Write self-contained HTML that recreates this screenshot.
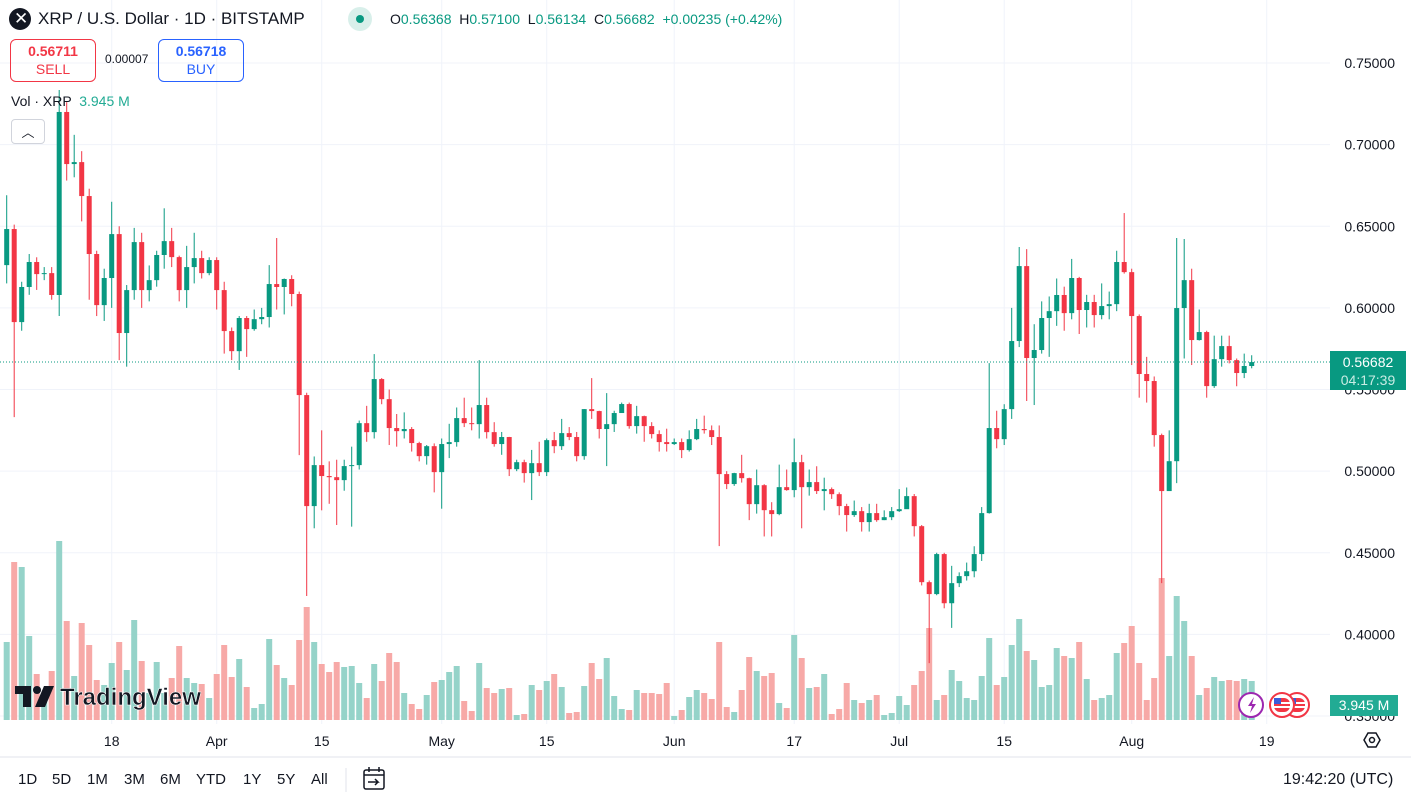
<!DOCTYPE html>
<html><head><meta charset="utf-8">
<style>
html,body{margin:0;padding:0;background:#fff;width:1411px;height:799px;overflow:hidden;font-family:"Liberation Sans",sans-serif;}
#wrap{position:relative;width:1411px;height:799px;}
svg{position:absolute;left:0;top:0;}
.hdr{position:absolute;font-size:16px;color:#131722;white-space:nowrap;}
.box{position:absolute;border:1px solid;border-radius:6px;text-align:center;font-size:14px;line-height:18px;padding-top:2px;box-sizing:border-box;}
.tf{position:absolute;top:771px;font-size:15px;color:#131722;}
</style></head><body>
<div id="wrap">
<svg id="chart" width="1411" height="799"></svg>

<div class="hdr" style="left:9px;top:8px;width:22px;height:22px;border-radius:11px;background:#131722;"><span style="position:absolute;left:5px;top:1px;color:#fff;font-size:17px;">✕</span></div>
<div class="hdr" style="left:38px;top:9px;font-size:17px;">XRP / U.S. Dollar · 1D · BITSTAMP</div>
<div class="hdr" style="left:348px;top:7px;width:24px;height:24px;border-radius:12px;background:#d8efea;"><div style="position:absolute;left:8px;top:8px;width:8px;height:8px;border-radius:4px;background:#089981;"></div></div>
<div class="hdr" style="left:390px;top:11px;font-size:14px;">O<span style="color:#089981">0.56368</span> &nbsp;H<span style="color:#089981">0.57100</span> &nbsp;L<span style="color:#089981">0.56134</span> &nbsp;C<span style="color:#089981">0.56682</span> &nbsp;<span style="color:#089981">+0.00235 (+0.42%)</span></div>

<div class="box" style="left:10px;top:39px;width:86px;height:43px;border-color:#f23645;color:#f23645;"><b>0.56711</b><br>SELL</div>
<div class="hdr" style="left:105px;top:52px;font-size:12px;">0.00007</div>
<div class="box" style="left:158px;top:39px;width:86px;height:43px;border-color:#2962ff;color:#2962ff;"><b>0.56718</b><br>BUY</div>
<div class="hdr" style="left:11px;top:93px;font-size:14px;">Vol · XRP &nbsp;<span style="color:#22ab94">3.945 M</span></div>
<div class="hdr" style="left:11px;top:119px;width:34px;height:25px;border:1px solid #d1d4dc;border-radius:4px;background:#fff;box-sizing:border-box;text-align:center;font-size:13px;line-height:26px;">︿</div>

<div class="hdr" style="left:1330px;top:351px;width:76px;height:39px;background:#089981;color:#fff;font-size:14px;text-align:center;line-height:18px;padding-top:2px;box-sizing:border-box;">0.56682<br><span style="color:#c8ece4">04:17:39</span></div>
<div class="hdr" style="left:1330px;top:695px;width:68px;height:21px;background:#22ab94;color:#fff;font-size:14px;text-align:center;line-height:21px;">3.945 M</div>

<div class="tf" style="left:18px">1D</div>
<div class="tf" style="left:52px">5D</div>
<div class="tf" style="left:87px">1M</div>
<div class="tf" style="left:124px">3M</div>
<div class="tf" style="left:160px">6M</div>
<div class="tf" style="left:196px">YTD</div>
<div class="tf" style="left:243px">1Y</div>
<div class="tf" style="left:277px">5Y</div>
<div class="tf" style="left:311px">All</div>
<div class="tf" style="left:1283px;font-size:16px;">19:42:20 (UTC)</div>
</div>
<script>
const opens0 = 0.6262;
const closes = [0.6483,0.5913,0.6128,0.6281,0.6207,0.6213,0.6079,0.7200,0.6881,0.6893,0.6685,0.6330,0.6017,0.6183,0.6452,0.5846,0.6109,0.6403,0.6109,0.6170,0.6324,0.6409,0.6311,0.6109,0.6250,0.6305,0.6213,0.6293,0.6109,0.5858,0.5735,0.5938,0.5870,0.5931,0.5944,0.6146,0.6128,0.6177,0.6085,0.5466,0.4786,0.5037,0.4970,0.4963,0.4945,0.5031,0.5037,0.5294,0.5239,0.5564,0.5441,0.5264,0.5245,0.5258,0.5172,0.5092,0.5153,0.4994,0.5166,0.5178,0.5325,0.5294,0.5288,0.5405,0.5239,0.5166,0.5209,0.5012,0.5055,0.4988,0.5049,0.4994,0.5190,0.5153,0.5233,0.5209,0.5092,0.5380,0.5368,0.5258,0.5288,0.5356,0.5411,0.5276,0.5337,0.5276,0.5227,0.5178,0.5166,0.5178,0.5129,0.5196,0.5258,0.5251,0.5209,0.4982,0.4921,0.4988,0.4957,0.4798,0.4914,0.4761,0.4737,0.4902,0.4884,0.5055,0.4902,0.4933,0.4878,0.4890,0.4859,0.4786,0.4731,0.4755,0.4688,0.4743,0.4700,0.4718,0.4755,0.4767,0.4847,0.4663,0.4320,0.4247,0.4492,0.4191,0.4314,0.4357,0.4387,0.4492,0.4743,0.5264,0.5196,0.5380,0.5797,0.6256,0.5693,0.5742,0.5938,0.5980,0.6079,0.5968,0.6183,0.5987,0.6036,0.5956,0.6011,0.6023,0.6281,0.6219,0.5950,0.5595,0.5552,0.5221,0.4878,0.5061,0.5999,0.6170,0.5803,0.5852,0.5521,0.5686,0.5766,0.5680,0.5601,0.5644,0.5668];
const highs = [0.6690,0.6510,0.6160,0.6330,0.6310,0.6250,0.6250,0.7335,0.7260,0.7060,0.6960,0.6730,0.6350,0.6240,0.6650,0.6500,0.6140,0.6490,0.6460,0.6260,0.6350,0.6610,0.6490,0.6320,0.6380,0.6460,0.6350,0.6310,0.6310,0.6160,0.5880,0.5950,0.5950,0.5990,0.6000,0.6262,0.6428,0.6180,0.6200,0.6100,0.5480,0.5090,0.5250,0.5060,0.5070,0.5070,0.5150,0.5310,0.5400,0.5717,0.5570,0.5500,0.5350,0.5360,0.5270,0.5180,0.5160,0.5170,0.5200,0.5290,0.5390,0.5450,0.5390,0.5680,0.5450,0.5300,0.5240,0.5210,0.5070,0.5070,0.5130,0.5180,0.5200,0.5240,0.5320,0.5270,0.5240,0.5380,0.5570,0.5370,0.5478,0.5370,0.5420,0.5420,0.5400,0.5340,0.5300,0.5250,0.5260,0.5200,0.5200,0.5250,0.5320,0.5340,0.5280,0.5280,0.5000,0.4990,0.5100,0.4960,0.5010,0.4920,0.4810,0.5040,0.5010,0.5200,0.5100,0.5010,0.5030,0.4960,0.4900,0.4870,0.4800,0.4820,0.4780,0.4800,0.4800,0.4760,0.4780,0.4890,0.4900,0.4860,0.4670,0.4330,0.4500,0.4500,0.4420,0.4380,0.4440,0.4540,0.4780,0.5662,0.5370,0.5410,0.6000,0.6373,0.6360,0.5900,0.6040,0.6070,0.6180,0.6130,0.6300,0.6190,0.6080,0.6080,0.6150,0.6100,0.6350,0.6581,0.6240,0.5960,0.5700,0.5580,0.5230,0.5250,0.6428,0.6422,0.6240,0.5990,0.5860,0.5830,0.5830,0.5830,0.5690,0.5720,0.5710];
const lows = [0.6150,0.5331,0.5860,0.6080,0.6110,0.6170,0.6050,0.5950,0.6780,0.6800,0.6530,0.6050,0.5950,0.5920,0.6000,0.5680,0.5640,0.6050,0.6000,0.6040,0.6130,0.6240,0.6250,0.6040,0.6000,0.6150,0.6180,0.6200,0.5990,0.5720,0.5680,0.5620,0.5700,0.5860,0.5900,0.5880,0.5990,0.5960,0.6010,0.5098,0.4235,0.4650,0.4760,0.4800,0.4670,0.4880,0.4660,0.5010,0.5180,0.5200,0.5410,0.5160,0.5150,0.5200,0.5120,0.5060,0.5040,0.4870,0.4770,0.5080,0.5150,0.5270,0.5250,0.5200,0.5200,0.5150,0.5100,0.4970,0.5000,0.4930,0.4823,0.4970,0.4970,0.5110,0.5130,0.5190,0.5060,0.5070,0.5320,0.5200,0.5031,0.5240,0.5390,0.5260,0.5230,0.5180,0.5200,0.5120,0.5120,0.5160,0.5080,0.5120,0.5190,0.5230,0.5160,0.4541,0.4890,0.4910,0.4930,0.4700,0.4740,0.4600,0.4600,0.4730,0.4880,0.4840,0.4650,0.4850,0.4860,0.4760,0.4830,0.4730,0.4630,0.4720,0.4630,0.4630,0.4690,0.4700,0.4700,0.4750,0.4830,0.4600,0.4300,0.3824,0.4240,0.4160,0.4040,0.4290,0.4330,0.4350,0.4450,0.4740,0.5140,0.5160,0.5320,0.5760,0.5430,0.5405,0.5720,0.5700,0.5890,0.5860,0.5930,0.5840,0.5880,0.5880,0.5930,0.5930,0.5980,0.6210,0.5650,0.5450,0.5420,0.5150,0.4314,0.4880,0.4927,0.5690,0.5650,0.5800,0.5450,0.5510,0.5640,0.5660,0.5520,0.5570,0.5630];
const volumes = [7.8,15.8,15.3,8.4,4.6,2.0,4.9,17.9,9.9,4.4,9.7,7.5,4.0,3.5,5.7,7.8,5.0,10.0,5.9,2.7,5.8,2.7,4.2,7.4,4.2,3.7,3.6,2.2,4.6,7.5,4.3,6.1,3.3,1.2,1.6,8.1,5.5,4.2,3.5,8.0,11.3,7.8,5.6,4.8,5.8,5.3,5.4,3.7,2.2,5.6,3.9,6.7,5.8,2.7,1.6,1.1,2.5,3.8,4.0,4.8,5.4,1.9,0.9,5.7,3.2,2.7,3.1,3.2,0.5,0.6,3.5,3.0,3.9,4.6,3.3,0.7,0.8,3.4,5.7,4.1,6.2,2.4,1.1,1.0,3.0,2.7,2.7,2.6,3.7,0.4,1.0,2.3,3.0,2.7,2.1,7.8,1.3,0.8,3.0,6.3,4.9,4.4,4.7,1.7,1.2,8.5,6.2,3.2,3.3,4.6,0.6,1.1,3.7,2.0,1.7,2.0,2.5,0.5,0.7,2.4,1.5,3.5,4.9,9.2,2.0,2.5,5.0,3.9,2.2,2.0,4.4,8.2,3.5,4.3,7.5,10.1,6.9,6.0,3.3,3.5,7.2,6.4,6.2,7.8,4.1,2.0,2.2,2.5,6.7,7.7,9.4,5.7,2.0,4.2,14.2,6.4,12.4,9.9,6.4,2.5,3.2,4.3,3.9,4.0,3.9,4.1,3.9];
const priceTicks = [0.75,0.70,0.65,0.60,0.55,0.50,0.45,0.40,0.35];
const priceTickLabels = ["0.75000","0.70000","0.65000","0.60000","0.55000","0.50000","0.45000","0.40000","0.35000"];
const timeTickIdx = [14,28,42,58,72,89,105,119,133,150,168];
const timeTickLabels = ["18","Apr","15","May","15","Jun","17","Jul","15","Aug","19"];
const lastPrice = 0.56682;

const NS="http://www.w3.org/2000/svg";
const svg=document.getElementById('chart');
const PLOT_R=1330, VOL_BASE=720;
function xOf(i){return 6.7+7.5*i;}
function yOf(p){return 63+(0.75-p)*1632.6;}
function vH(v){return v*10;}
function mk(tag,attrs,parent){const e=document.createElementNS(NS,tag);for(const k in attrs)e.setAttribute(k,attrs[k]);(parent||svg).appendChild(e);return e;}

const clip=mk('clipPath',{id:'pc'});mk('rect',{x:0,y:0,width:PLOT_R,height:721},clip);
const grid=mk('g',{});


priceTicks.forEach((p,k)=>{
  const y=yOf(p);
  const l=mk('line',{x1:0,x2:PLOT_R,y1:y,y2:y,stroke:'#f0f3fa','stroke-width':1},grid);
  
  
  const t=mk('text',{x:1395,y:y+5,'text-anchor':'end','font-size':14,fill:'#131722','font-family':'Liberation Sans, sans-serif'});
  t.textContent=priceTickLabels[k];
  
  
});
timeTickIdx.forEach((ix,k)=>{
  const x=xOf(ix);
  const l=mk('line',{x1:x,x2:x,y1:0,y2:724,stroke:'#f0f3fa','stroke-width':1},grid);
  
  
  const t=mk('text',{x:x,y:746,'text-anchor':'middle','font-size':14,fill:'#131722','font-family':'Liberation Sans, sans-serif'});
  t.textContent=timeTickLabels[k];
  
  
});
const plot=mk('g',{'clip-path':'url(#pc)'});
// volume
const vg=mk('g',{},plot);


volumes.forEach((v,i)=>{
  const o=i===0?opens0:closes[i-1];
  const up=closes[i]>=o;
  const r=mk('rect',{x:xOf(i)-3,y:VOL_BASE-vH(v),width:6,height:vH(v),fill:up?'#95d3c9':'#f7a9a7'},vg);
  
  
});
// candles
const cg=mk('g',{},plot);


closes.forEach((c,i)=>{
  const o=i===0?opens0:closes[i-1];
  const up=c>=o;const col=up?'#089981':'#f23645';
  const x=xOf(i);
  const w=mk('line',{x1:x,x2:x,y1:yOf(highs[i]),y2:yOf(lows[i]),stroke:col,'stroke-width':1},cg);
  
  
  const yt=yOf(Math.max(o,c)),yb=yOf(Math.min(o,c));
  const b=mk('rect',{x:x-2.5,y:yt,width:5,height:Math.max(1,yb-yt),fill:col},cg);
  
  
});
const pl=mk('line',{x1:0,x2:PLOT_R,y1:yOf(lastPrice),y2:yOf(lastPrice),stroke:'#089981','stroke-width':1,'stroke-dasharray':'1 2'});


// bottom separator
const sep=mk('line',{x1:0,x2:1411,y1:757,y2:757,stroke:'#e0e3eb','stroke-width':1});


const sep2=mk('line',{x1:346,x2:346,y1:768,y2:792,stroke:'#e0e3eb','stroke-width':1});


// calendar icon
const cal=mk('g',{fill:'none',stroke:'#131722','stroke-width':1.5});


mk('rect',{x:364,y:770,width:20,height:19,rx:2},cal);
mk('line',{x1:364,x2:384,y1:775,y2:775},cal);
mk('line',{x1:369,x2:369,y1:767,y2:772},cal);
mk('line',{x1:379,x2:379,y1:767,y2:772},cal);
mk('path',{d:'M368 782 h10 l-3 -3 M378 782 l-3 3'},cal);
// settings icon
const gear=mk('g',{fill:'none',stroke:'#131722','stroke-width':1.5});


mk('path',{d:'M1364 740 l4 -7 h8 l4 7 l-4 7 h-8 z'},gear);
mk('circle',{cx:1372,cy:740,r:2.5},gear);
// event icons
const ev=mk('g',{});


mk('circle',{cx:1251,cy:705,r:12,fill:'#fff',stroke:'#9c27b0','stroke-width':2},ev);
mk('path',{d:'M1254 697 l-6 9 h4 l-2 7 l6 -9 h-4 z',fill:'#9c27b0'},ev);
[1297,1282].forEach(cx=>{
  mk('circle',{cx:cx,cy:705,r:12,fill:'#fff',stroke:'#f23645','stroke-width':2},ev);
  mk('rect',{x:cx-8,y:698,width:16,height:14,rx:6,fill:'#f23645'},ev);
  mk('rect',{x:cx-8,y:702,width:16,height:2,fill:'#fff'},ev);
  mk('rect',{x:cx-8,y:706,width:16,height:2,fill:'#fff'},ev);
  mk('rect',{x:cx-8,y:698,width:7,height:6,fill:'#3a5bd9'},ev);
});
// logo
const logo=mk('g',{});


mk('path',{d:'M15 686 h16 v21 h-8 v-13 h-8 z',fill:'#131722'},logo);
mk('circle',{cx:37,cy:690,r:4,fill:'#131722'},logo);
mk('path',{d:'M44 686 h10 l-9 21 h-10 z',fill:'#131722'},logo);
const lt=mk('text',{x:60,y:705,'font-size':24,'font-weight':'bold',fill:'#131722','font-family':'Liberation Sans, sans-serif',stroke:'#fff','stroke-width':0.5});
lt.textContent='TradingView';


</script>
</body></html>
